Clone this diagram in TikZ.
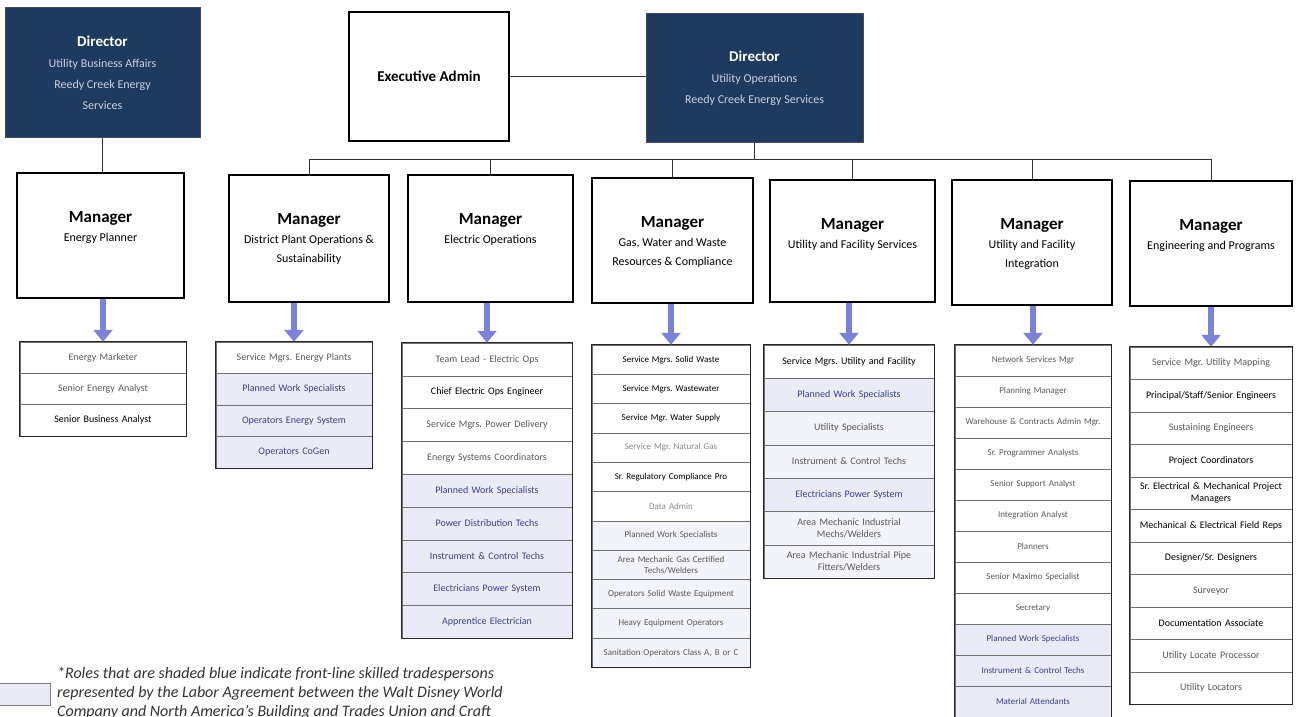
\documentclass[tikz,border=0pt]{standalone}
\usepackage{fontspec}
\setmainfont{Carlito}
\usetikzlibrary{arrows.meta}
\frenchspacing
\definecolor{navy}{HTML}{1F3A5F}
\definecolor{dirsub}{HTML}{C9D1DE}
\definecolor{shade}{HTML}{EBEBF7}
\definecolor{shadelt}{HTML}{F3F3FA}
\definecolor{arrowblue}{HTML}{7C82D6}
\definecolor{txtgrey}{HTML}{5A5A5A}
\definecolor{txtlt}{HTML}{8A8A8A}
\definecolor{txtblue}{HTML}{3B4090}
\definecolor{rowline}{HTML}{707070}
\tikzset{
  dirbox/.style={draw=black!70, line width=1pt, fill=navy, text=dirsub, align=center, font=\fontsize{12}{21}\selectfont},
  eabox/.style={draw=black, line width=1.3pt, fill=white, font=\fontsize{15}{18}\selectfont\bfseries},
  mgrbox/.style={draw=black, line width=1.3pt, fill=white},
  mgrtext/.style={anchor=north, align=center, inner sep=0pt, font=\fontsize{12}{19}\selectfont},
  rowbox/.style={draw=rowline, line width=0.5pt, align=center, inner sep=1pt},
  pl/.style={text=txtgrey},
  lg/.style={text=txtlt},
  dk/.style={text=black},
  sh/.style={fill=shade, text=txtblue},
  shg/.style={fill=shadelt, text=txtgrey},
  frame/.style={draw=black!85, line width=1.1pt},
  link/.style={draw=black!80, line width=0.8pt},
  barrow/.style={draw=arrowblue, line width=6.5pt, -{Triangle[width=19pt,length=12pt]}},
}
% name, cx, top, width, rowh, font, rows
\newcommand\orglist[7]{%
  \pgfmathsetmacro\orgtw{#4-6}%
  \foreach \t/\s [count=\i] in {#7} {
    \node[rowbox,\s,font=#6,minimum width=#4pt,minimum height=#5pt,text width=\orgtw pt] (#1-\i) at (#2,{#3+(\i-0.5)*#5}) {\t};
  }
}
\newcommand\mgrtitle{\fontsize{17}{19}\selectfont\bfseries Manager}
\begin{document}
\begin{tikzpicture}[x=1pt,y=-1pt]
\useasboundingbox[fill=white] (0,0) rectangle (1304,717);

% directors and admin
\node[dirbox, minimum width=195pt, minimum height=129pt] (D1) at (102.5,72.5)
  {{\color{white}\fontsize{15}{21}\selectfont\bfseries Director}\\Utility Business Affairs\\Reedy Creek Energy\\Services};
\node[dirbox, minimum width=217pt, minimum height=128pt] (D2) at (754.5,78)
  {{\color{white}\fontsize{15}{21}\selectfont\bfseries Director}\\Utility Operations\\Reedy Creek Energy Services};
\node[eabox, minimum width=160pt, minimum height=129pt] (EA) at (429,76.5) {Executive Admin};

% managers
\node[mgrbox, minimum width=167pt, minimum height=125pt] (M1) at (100.5,235.5) {};
\node[mgrbox, minimum width=160pt, minimum height=127pt] (M2) at (309,238.5) {};
\node[mgrbox, minimum width=165pt, minimum height=127pt] (M3) at (490.5,238.5) {};
\node[mgrbox, minimum width=161pt, minimum height=125pt] (M4) at (672.5,240.5) {};
\node[mgrbox, minimum width=165pt, minimum height=122pt] (M5) at (852.5,241) {};
\node[mgrbox, minimum width=160pt, minimum height=125pt] (M6) at (1032,242.5) {};
\node[mgrbox, minimum width=162pt, minimum height=125pt] (M7) at (1211,243.5) {};
\node[mgrtext] (M1t) at ([yshift=-39pt]M1.north) {{\mgrtitle}\\Energy Planner};
\node[mgrtext] (M2t) at ([yshift=-39pt]M2.north) {{\mgrtitle}\\District Plant Operations \&\\Sustainability};
\node[mgrtext] (M3t) at ([yshift=-39pt]M3.north) {{\mgrtitle}\\Electric Operations};
\node[mgrtext] (M4t) at ([yshift=-39pt]M4.north) {{\mgrtitle}\\Gas, Water and Waste\\Resources \& Compliance};
\node[mgrtext] (M5t) at ([yshift=-39pt]M5.north) {{\mgrtitle}\\Utility and Facility Services};
\node[mgrtext] (M6t) at ([yshift=-39pt]M6.north) {{\mgrtitle}\\Utility and Facility\\Integration};
\node[mgrtext] (M7t) at ([yshift=-39pt]M7.north) {{\mgrtitle}\\Engineering and Programs};

% connectors
\draw[link] (EA.east) -- (EA.east -| D2.west);
\draw[link] (D1.south) -- (D1.south |- M1.north);
\coordinate (bus) at (754.5,159);
\draw[link] (D2.south) -- (bus);
\foreach \m in {M2,M3,M4,M5,M6,M7} { \draw[link] (bus) -| (\m.north); }

% lists
\orglist{L1}{103}{342}{166}{31.3}{\fontsize{10}{12}\selectfont}{
  {Energy Marketer}/pl, {Senior Energy Analyst}/pl, {Senior Business Analyst}/dk}
\orglist{L2}{294}{342}{156}{31.5}{\fontsize{10}{12}\selectfont}{
  {Service Mgrs. Energy Plants}/pl, {Planned Work Specialists}/sh, {Operators Energy System}/sh, {Operators CoGen}/sh}
\orglist{L3}{487}{343}{170}{32.8}{\fontsize{10}{12}\selectfont}{
  {Team Lead - Electric Ops}/pl, {Chief Electric Ops Engineer}/dk, {Service Mgrs. Power Delivery}/pl,
  {Energy Systems Coordinators}/pl, {Planned Work Specialists}/sh, {Power Distribution Techs}/sh,
  {Instrument \& Control Techs}/sh, {Electricians Power System}/sh, {Apprentice Electrician}/sh}
\orglist{L4}{671}{345}{158}{29.3}{\fontsize{9}{11}\selectfont}{
  {Service Mgrs. Solid Waste}/dk, {Service Mgrs. Wastewater}/dk, {Service Mgr. Water Supply}/dk,
  {Service Mgr. Natural Gas}/lg, {Sr. Regulatory Compliance Pro}/dk, {Data Admin}/lg,
  {Planned Work Specialists}/shg, {Area Mechanic Gas Certified\\Techs/Welders}/shg,
  {Operators Solid Waste Equipment}/shg, {Heavy Equipment Operators}/shg, {Sanitation Operators Class A, B or C}/shg}
\orglist{L5}{849}{345}{170}{33.3}{\fontsize{10}{12}\selectfont}{
  {Service Mgrs. Utility and Facility}/dk, {Planned Work Specialists}/sh, {Utility Specialists}/shg,
  {Instrument \& Control Techs}/shg, {Electricians Power System}/sh,
  {Area Mechanic Industrial\\Mechs/Welders}/shg, {Area Mechanic Industrial Pipe\\Fitters/Welders}/shg}
\orglist{L6}{1033}{345}{156}{31}{\fontsize{9}{11}\selectfont}{
  {Network Services Mgr}/pl, {Planning Manager}/pl, {Warehouse \& Contracts Admin Mgr.}/pl,
  {Sr. Programmer Analysts}/pl, {Senior Support Analyst}/pl, {Integration Analyst}/pl, {Planners}/pl,
  {Senior Maximo Specialist}/pl, {Secretary}/pl, {Planned Work Specialists}/sh,
  {Instrument \& Control Techs}/sh, {Material Attendants}/sh}
\orglist{L7}{1211}{347}{162}{32.5}{\fontsize{10}{12}\selectfont}{
  {Service Mgr. Utility Mapping}/pl, {Principal/Staff/Senior Engineers}/dk, {Sustaining Engineers}/pl,
  {Project Coordinators}/dk, {Sr. Electrical \& Mechanical Project\\Managers}/dk,
  {Mechanical \& Electrical Field Reps}/dk, {Designer/Sr. Designers}/dk, {Surveyor}/pl,
  {Documentation Associate}/dk, {Utility Locate Processor}/pl, {Utility Locators}/pl}

\draw[frame] (L1-1.north west) rectangle (L1-3.south east);
\draw[frame] (L2-1.north west) rectangle (L2-4.south east);
\draw[frame] (L3-1.north west) rectangle (L3-9.south east);
\draw[frame] (L4-1.north west) rectangle (L4-11.south east);
\draw[frame] (L5-1.north west) rectangle (L5-7.south east);
\draw[frame] (L6-1.north west) rectangle (L6-12.south east);
\draw[frame] (L7-1.north west) rectangle (L7-11.south east);

% blue arrows
\foreach \k in {1,...,7} { \draw[barrow] (L\k-1.north |- M\k.south) -- (L\k-1.north); }

% legend
\node[draw=gray, line width=0.6pt, fill=shade, minimum width=52pt, minimum height=22pt] (legend) at (24,694) {};
\node[anchor=north west, align=left, inner sep=0pt, text=black!80, font=\fontsize{16}{19}\selectfont\itshape] (note) at (57,667)
  {*Roles that are shaded blue indicate front-line skilled tradespersons\\
   represented by the Labor Agreement between the Walt Disney World\\
   Company and North America's Building and Trades Union and Craft};
\end{tikzpicture}
\end{document}
